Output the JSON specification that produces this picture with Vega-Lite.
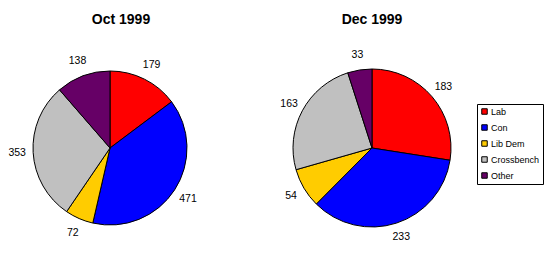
{
  "$schema": "https://vega.github.io/schema/vega-lite/v6.json",
  "padding": {"top": 13, "left": 0, "right": 0, "bottom": 0},
  "background": "white",
  "config": {
    "view": {"stroke": null},
    "font": "Liberation Sans",
    "title": {"font": "Liberation Sans", "fontSize": 14, "fontWeight": "bold", "color": "black"}
  },
  "data": {
    "values": [
      {"month": "Oct 1999", "party": "Lab", "seats": 179, "ord": 1},
      {"month": "Oct 1999", "party": "Con", "seats": 471, "ord": 2},
      {"month": "Oct 1999", "party": "Lib Dem", "seats": 72, "ord": 3},
      {"month": "Oct 1999", "party": "Crossbench", "seats": 353, "ord": 4},
      {"month": "Oct 1999", "party": "Other", "seats": 138, "ord": 5},
      {"month": "Dec 1999", "party": "Lab", "seats": 183, "ord": 1},
      {"month": "Dec 1999", "party": "Con", "seats": 233, "ord": 2},
      {"month": "Dec 1999", "party": "Lib Dem", "seats": 54, "ord": 3},
      {"month": "Dec 1999", "party": "Crossbench", "seats": 163, "ord": 4},
      {"month": "Dec 1999", "party": "Other", "seats": 33, "ord": 5}
    ]
  },
  "spacing": 60,
  "hconcat": [
    {
      "title": {"text": "Oct 1999", "dx": 11, "offset": 21},
      "width": 220,
      "height": 200,
      "transform": [{"filter": "datum.month == 'Oct 1999'"}],
      "encoding": {
        "theta": {"field": "seats", "type": "quantitative", "stack": true},
        "order": {"field": "ord", "type": "quantitative"}
      },
      "layer": [
        {
          "mark": {"type": "arc", "radius": 77, "stroke": "black", "strokeWidth": 1},
          "encoding": {
            "color": {
              "field": "party", "type": "nominal",
              "scale": {"domain": ["Lab", "Con", "Lib Dem", "Crossbench", "Other"], "range": ["#ff0000", "#0000ff", "#ffcc00", "#c0c0c0", "#660066"]},
              "legend": {"title": null, "orient": "none", "legendX": 477, "legendY": 56, "symbolType": "square", "symbolSize": 30, "symbolStrokeColor": "black", "symbolStrokeWidth": 1, "symbolOpacity": 1, "labelFont": "Liberation Sans", "labelFontSize": 9, "labelColor": "black", "labelOffset": 2, "rowPadding": 5, "padding": 3, "strokeColor": "black", "fillColor": "white"}
            }
          }
        },
        {
          "mark": {"type": "text", "radius": 93, "align": "center", "baseline": "middle", "fontSize": 10.5, "font": "Liberation Sans", "color": "black"},
          "encoding": {"text": {"field": "seats", "type": "quantitative"}}
        }
      ]
    },
    {
      "title": {"text": "Dec 1999", "offset": 21},
      "width": 180,
      "height": 200,
      "transform": [{"filter": "datum.month == 'Dec 1999'"}],
      "encoding": {
        "theta": {"field": "seats", "type": "quantitative", "stack": true},
        "order": {"field": "ord", "type": "quantitative"}
      },
      "layer": [
        {
          "mark": {"type": "arc", "radius": 79, "stroke": "black", "strokeWidth": 1},
          "encoding": {
            "color": {
              "field": "party", "type": "nominal",
              "scale": {"domain": ["Lab", "Con", "Lib Dem", "Crossbench", "Other"], "range": ["#ff0000", "#0000ff", "#ffcc00", "#c0c0c0", "#660066"]},
              "legend": {"title": null, "orient": "none", "legendX": 477, "legendY": 56, "symbolType": "square", "symbolSize": 30, "symbolStrokeColor": "black", "symbolStrokeWidth": 1, "symbolOpacity": 1, "labelFont": "Liberation Sans", "labelFontSize": 9, "labelColor": "black", "labelOffset": 2, "rowPadding": 5, "padding": 3, "strokeColor": "black", "fillColor": "white"}
            }
          }
        },
        {
          "mark": {"type": "text", "radius": 94, "align": "center", "baseline": "middle", "fontSize": 10.5, "font": "Liberation Sans", "color": "black"},
          "encoding": {"text": {"field": "seats", "type": "quantitative"}}
        }
      ]
    }
  ]
}
